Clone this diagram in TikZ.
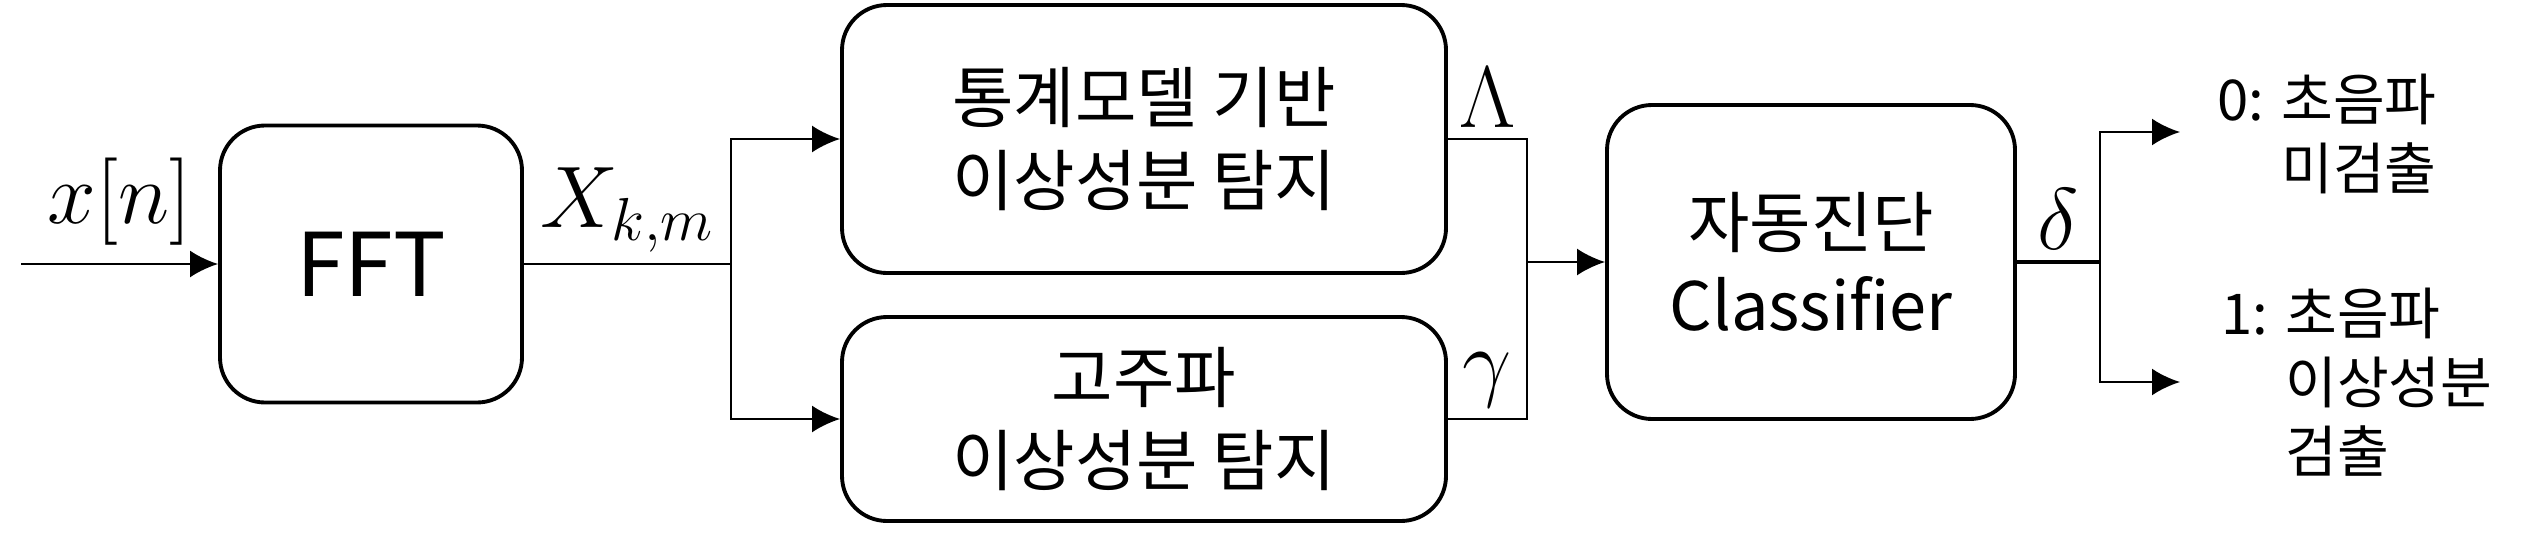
\documentclass[tikz,border=0pt]{standalone}
\usepackage{amsmath}
\usepackage{fontspec}
\setmainfont{Noto Sans CJK KR}
\usetikzlibrary{arrows.meta,positioning}

\begin{document}
\begin{tikzpicture}
	[->,>={Latex[length=0.28cm,width=0.27cm]},
		block node/.style={draw,line width=1.1pt,rounded corners=0.45cm,align=center,inner sep=0pt},
		text font/.style={font=\fontsize{19}{23.6}\selectfont},
		sig label/.style={font=\fontsize{24}{28}\selectfont,inner sep=3pt},
		out text/.style={align=left,anchor=west,inner sep=0pt,font=\fontsize{16}{19.7}\selectfont},
		link/.style={line width=0.75pt}]

	\useasboundingbox (0,0) rectangle (25.46,5.42);

	\node[block node,minimum width=3.02cm,minimum height=2.77cm,font=\fontsize{25}{30}\selectfont] (fft) at (3.71,2.78) {FFT};
	\node[block node,text font,minimum width=6.04cm,minimum height=2.68cm] (stat) at (11.44,4.03) {통계모델 기반\\이상성분 탐지};
	\node[block node,text font,minimum width=6.04cm,minimum height=2.04cm] (hf) at (11.44,1.23) {고주파\\이상성분 탐지};
	\node[block node,text font,minimum width=4.08cm,minimum height=3.14cm] (cls) at (18.11,2.80) {자동진단\\Classifier};

	\coordinate (in) at (0.21,2.78);
	\coordinate (split) at (7.31,2.78);
	\coordinate (merge) at (15.27,2.80);
	\coordinate (fork) at (21.00,2.80);
	\coordinate (o0) at (21.80,4.10);
	\coordinate (o1) at (21.80,1.60);

	\node[out text] (no hit) at (22.17,4.08) {0: 초음파\\\hphantom{0: }미검출};
	\node[out text] (hit) at (22.21,1.60) {1: 초음파\\\hphantom{1: }이상성분\\\hphantom{1: }검출};

	\draw[link] (in) -- node[sig label,above,inner sep=5pt] (xn) {$x[n]$} (fft.west);
	\draw[link,-] (fft.east) -- node[sig label,above] (xkm) {$X_{k,m}$} (split);
	\draw[link] (split) |- (stat.west);
	\draw[link] (split) |- (hf.west);
	\draw[link,-] (stat.east) -| node[sig label,above,pos=0.25] (lam) {$\Lambda$} (merge);
	\draw[link,-] (hf.east) -| node[sig label,above,pos=0.25] (gam) {$\gamma$} (merge);
	\draw[link] (merge) -- (cls.west);
	\draw[line width=1.1pt,-] (cls.east) -- node[sig label,above] (del) {$\delta$} (fork);
	\draw[link] (fork) |- (o0);
	\draw[link] (fork) |- (o1);

\end{tikzpicture}
\end{document}
